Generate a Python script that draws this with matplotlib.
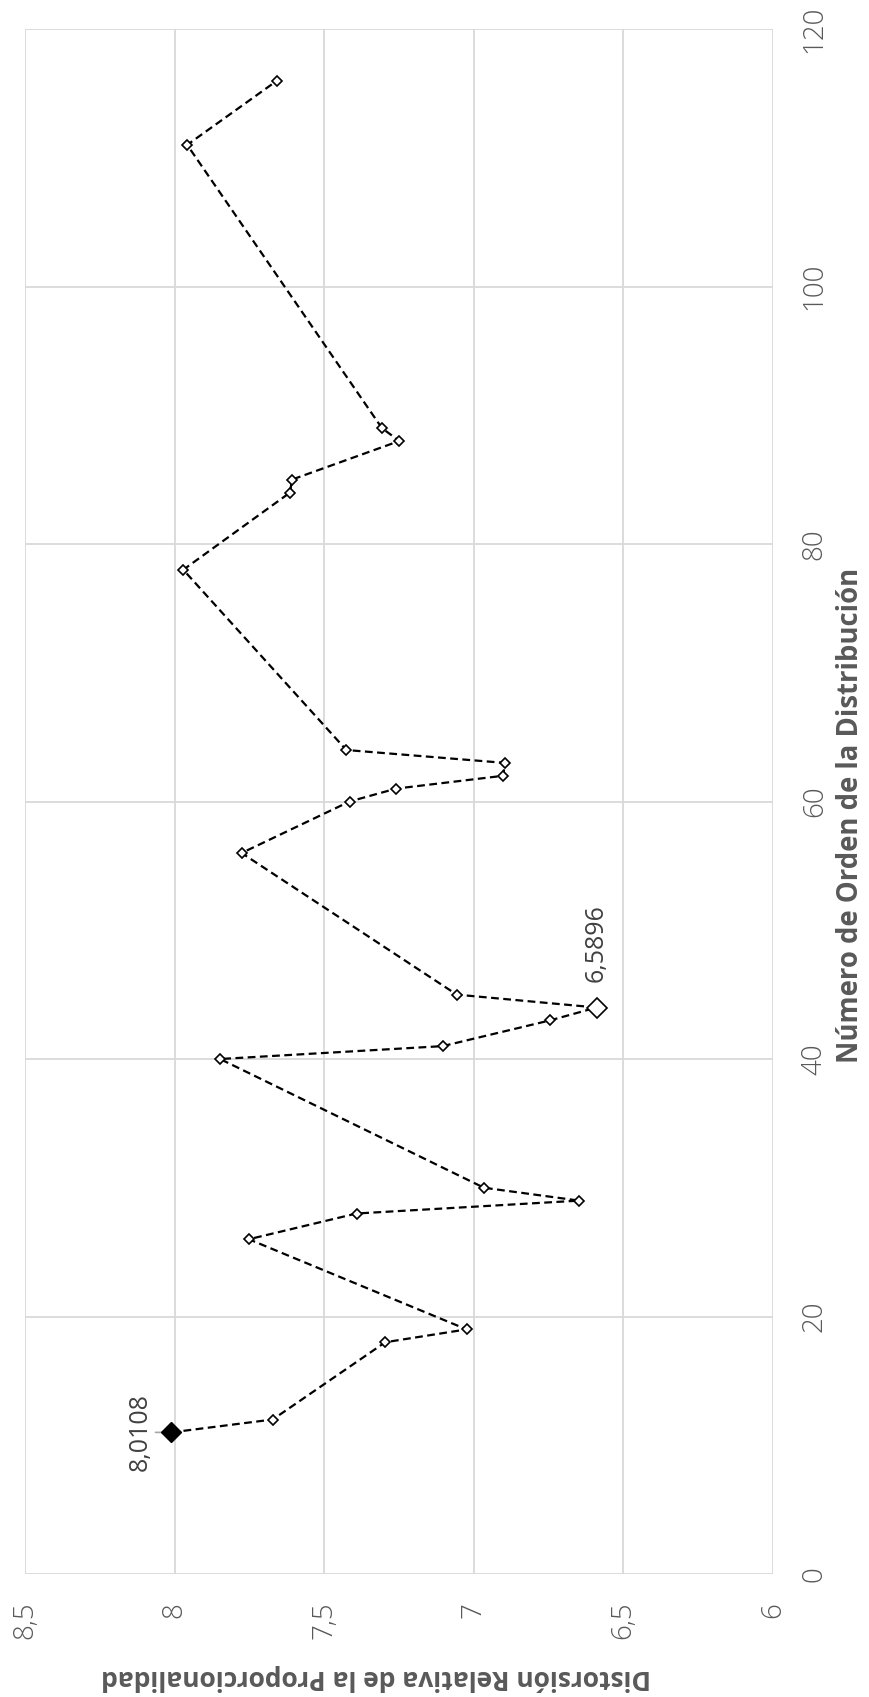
import numpy as np
import matplotlib.pyplot as plt

plt.rcParams['font.family'] = ['Open Sans', 'DejaVu Sans']

# número de orden de la distribución y distorsión relativa
orden = [11, 12, 18, 19, 26, 28, 29, 30, 40, 41, 43, 44, 45, 56, 60, 61, 62, 63, 64,
         78, 84, 85, 88, 89, 111, 116]
distorsion = [8.0108, 7.672, 7.296, 7.024, 7.752, 7.392, 6.648, 6.966, 7.848, 7.104,
              6.745, 6.5896, 7.057, 7.776, 7.415, 7.260, 6.901, 6.897, 7.426,
              7.971, 7.614, 7.608, 7.249, 7.307, 7.958, 7.657]
val_ticks = [8.5, 8, 7.5, 7, 6.5, 6]
val_labels = ['8,5', '8', '7,5', '7', '6,5', '6']
ord_ticks = [0, 20, 40, 60, 80, 100, 120]
i_max = 0   # 8,0108
i_min = 11  # 6,5896

gris = '#595959'
fig = plt.figure(figsize=(8.69, 16.97), dpi=100)
ax = fig.add_axes([25 / 869, 1 - 1574 / 1697, 748 / 869, 1545 / 1697])

ax.plot(distorsion, orden, ls='--', color='black', lw=1.6, dashes=(3.5, 2),
        marker='D', ms=5.5, mfc='white', mec='black', mew=1.2, zorder=3)
ax.plot(distorsion[i_min], orden[i_min], marker='D', ms=10.5, mfc='white', mec='black',
        mew=1.2, zorder=4)
ax.plot(distorsion[i_max], orden[i_max], marker='D', ms=10.5, mfc='black', mec='black',
        zorder=4)

ax.set_xlim(8.5, 6)
ax.set_ylim(0, 120)
ax.set_xticks(val_ticks)
ax.set_xticklabels(val_labels)
ax.set_yticks(ord_ticks)
ax.yaxis.tick_right()
ax.tick_params(axis='both', length=0, labelsize=20, labelcolor=gris, labelrotation=90)
ax.tick_params(axis='x', pad=20)
ax.tick_params(axis='y', pad=20)
for lab in ax.get_yticklabels() + ax.get_xticklabels():
    lab.set_fontweight('light')
for lab in ax.get_yticklabels():
    lab.set_va('center')
for lab in ax.get_xticklabels():
    lab.set_ha('center')

ax.grid(True, color='#d9d9d9', lw=1.3)
ax.set_axisbelow(True)
for s in ax.spines.values():
    s.set_visible(False)

t_x = ax.text(1.104, 0.491, 'Número de Orden de la Distribución', transform=ax.transAxes,
              rotation=90, ha='center', va='center', fontsize=20, fontweight='bold', color=gris)
t_y = ax.text(0.469, -0.067, 'Distorsión Relativa de la Proporcionalidad', transform=ax.transAxes,
              rotation=180, ha='center', va='center', fontsize=20, fontweight='bold', color=gris)

# ajustar el tamaño de los títulos a la longitud del original
fig.canvas.draw()
r = fig.canvas.get_renderer()
h = t_x.get_window_extent(r).height
t_x.set_fontsize(20 * 495 / h)
w = t_y.get_window_extent(r).width
t_y.set_fontsize(20 * 553 / w)

ax.annotate('8,0108', xy=(distorsion[i_max], orden[i_max]), xytext=(8.115, orden[i_max]),
            rotation=90, ha='center', va='center', fontsize=18, color='#404040',
            arrowprops=dict(arrowstyle='-', color='#a6a6a6', lw=1.2, shrinkA=0, shrinkB=4))
ax.text(distorsion[i_min], orden[i_min] + 2.0, '6,5896', rotation=90, ha='center', va='bottom',
        fontsize=18, color='#404040')

fig.savefig('out.png', dpi=100)
